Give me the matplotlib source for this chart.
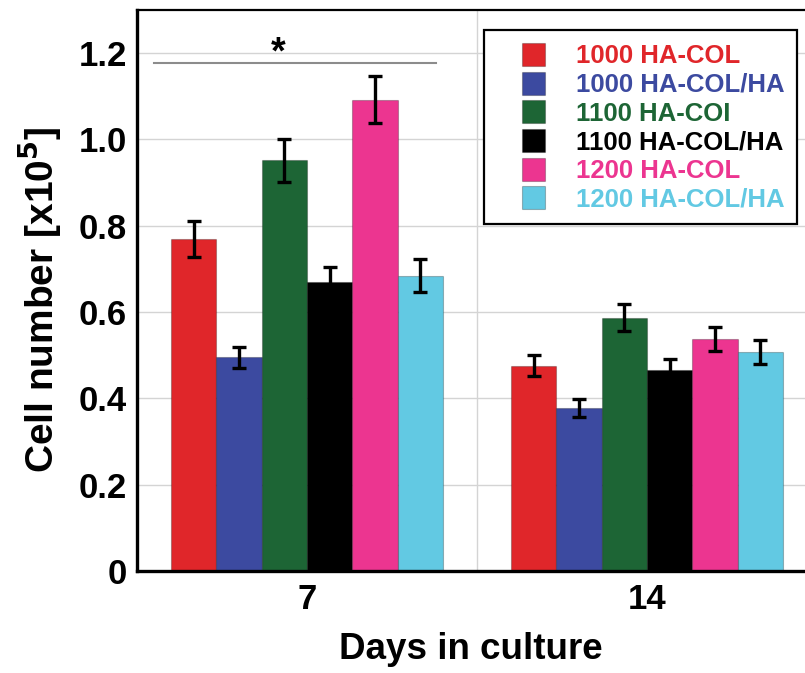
import numpy as np
import matplotlib
matplotlib.use("Agg")
import matplotlib.pyplot as plt
from matplotlib.patches import Rectangle
from matplotlib.container import BarContainer
from matplotlib.legend_handler import HandlerPatch, update_from_first_child

plt.rcParams['font.family'] = ['Liberation Sans', 'DejaVu Sans']
plt.rcParams['font.weight'] = 'bold'

# data
days = ['7', '14']
series = ['1000 HA-COL', '1000 HA-COL/HA', '1100 HA-COI',
          '1100 HA-COL/HA', '1200 HA-COL', '1200 HA-COL/HA']
colors = ['#e0262a', '#3c4aa0', '#1d6535', '#000000', '#ec3590', '#62c9e3']
means = [
    [0.770, 0.476],
    [0.495, 0.378],
    [0.952, 0.587],
    [0.670, 0.466],
    [1.092, 0.538],
    [0.684, 0.508],
]
errors = [
    [0.042, 0.025],
    [0.025, 0.021],
    [0.050, 0.032],
    [0.035, 0.025],
    [0.055, 0.028],
    [0.038, 0.028],
]
yticks = [0, 0.2, 0.4, 0.6, 0.8, 1.0, 1.2]
ytick_labels = ['0', '0.2', '0.4', '0.6', '0.8', '1.0', '1.2']

# significance bracket for day 7
sig_y = 1.178
sig_span = (-0.45, 0.38)
sig_star_x = -0.085


def square_patch(legend, orig_handle, xdescent, ydescent, width, height, fontsize):
    # square swatch pushed to the right end of the handle box
    size = height
    return Rectangle((-xdescent + width - size, -ydescent), size, size)


fig = plt.figure(figsize=(8.05, 6.73), dpi=100)
ax = fig.add_axes([0.170, 0.1516, 0.830, 0.8336])

x = np.arange(len(days))
n = len(series)
width = 0.8 / n
for i in range(n):
    offs = x - 0.4 + width * (i + 0.5)
    ax.bar(offs, means[i], width, color=colors[i], edgecolor=(0, 0, 0, 0.25),
           linewidth=0.8, label=series[i], zorder=2)
    ax.errorbar(offs, means[i], yerr=errors[i], fmt='none', ecolor='black',
                elinewidth=2.4, capsize=5, capthick=2.4, zorder=3)

# grid
for yv in yticks[1:]:
    ax.axhline(yv, color='#d4d4d4', lw=1.0, zorder=0)
ax.axvline(0.5, color='#d4d4d4', lw=1.0, zorder=0)

# significance line and star
ax.plot(sig_span, [sig_y, sig_y], color='#8c8c8c', lw=1.5, zorder=1)
ax.text(sig_star_x, sig_y - 0.02, '*', ha='center', va='bottom',
        fontsize=27, fontweight='bold')

ax.set_xlim(-0.5, 1.465)
ax.set_ylim(0, 1.3)
ax.set_xticks(x)
ax.set_xticklabels(days, fontsize=25, fontweight='bold')
ax.set_yticks(yticks)
ax.set_yticklabels(ytick_labels, fontsize=25, fontweight='bold')
ax.tick_params(axis='both', length=0)
ax.tick_params(axis='x', pad=9)
ax.tick_params(axis='y', pad=7)

ax.set_xlabel('Days in culture', fontsize=26.5, fontweight='bold', labelpad=11)
ax.set_ylabel('Cell number [x10$^\\mathbf{5}$]', fontsize=28, fontweight='bold')
ax.yaxis.set_label_coords(-0.11, 0.483)

ax.spines['right'].set_visible(False)
ax.spines['left'].set_linewidth(2.4)
ax.spines['bottom'].set_linewidth(2.4)
ax.spines['top'].set_linewidth(1.6)

handler = HandlerPatch(patch_func=square_patch, update_func=update_from_first_child)
leg = ax.legend(loc='upper right', bbox_to_anchor=(0.988, 0.964),
                borderaxespad=0, prop={'size': 18.5, 'weight': 'bold'},
                handlelength=1.85, handleheight=1.0, handletextpad=1.2,
                labelspacing=0.13, borderpad=0.5, fancybox=False,
                framealpha=1, edgecolor='black',
                handler_map={BarContainer: handler})
leg.get_frame().set_linewidth(1.6)
for txt, c in zip(leg.get_texts(), colors):
    txt.set_color(c)

fig.savefig('out.png', dpi=100)
